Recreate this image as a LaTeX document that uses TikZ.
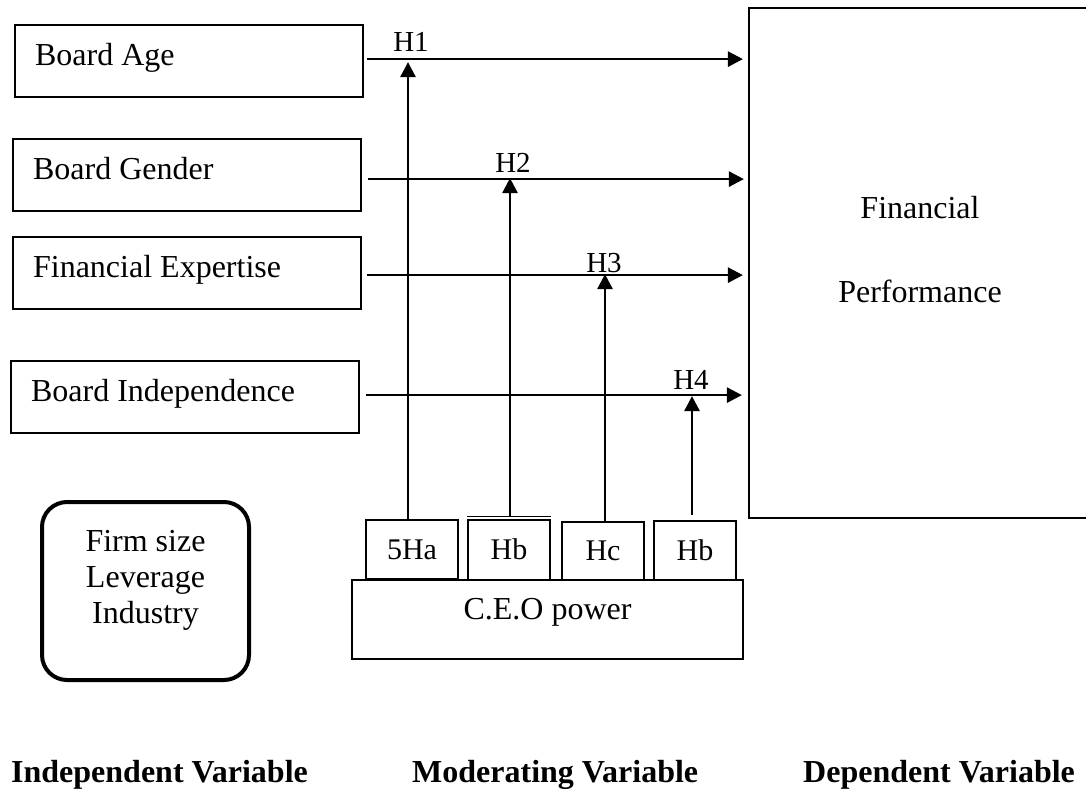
\documentclass[tikz,border=0pt]{standalone}
\usepackage{fontspec}
\setmainfont{Liberation Serif}
\usetikzlibrary{arrows.meta}
\begin{document}
\begin{tikzpicture}[x=1pt,y=-1pt,
  box/.style={draw, line width=2.2pt, inner sep=0pt, font=\fontsize{32}{38}\selectfont},
  varbox/.style={box, anchor=north west, minimum width=348pt, minimum height=72pt,
    text width=308pt, align=flush left, inner xsep=20pt, text height=22pt, text depth=14pt},
  hbox/.style={box, font=\fontsize{30}{36}\selectfont, minimum width=82pt,
    minimum height=59pt, text height=21pt, text depth=2pt},
  link/.style={line width=2.7pt, -{Triangle[length=15pt,width=15pt]}},
  hlab/.style={font=\fontsize{29}{34}\selectfont, anchor=base, inner sep=0pt},
  foot/.style={font=\fontsize{32}{38}\selectfont\bfseries, anchor=base west, inner sep=0pt}]
\useasboundingbox (0,0) rectangle (1086,792);
\clip (0,0) rectangle (1086,792);

% independent variables
\node[varbox] (ba) at (14,24) {Board Age};
\node[varbox] (bg) at (12,138) {Board Gender};
\node[varbox] (fe) at (12,236) {Financial Expertise};
\node[varbox] (bi) at (10,360) {Board Independence};

% dependent variable
\node[box, minimum width=342pt, minimum height=510pt, align=center, text depth=28pt]
  (fp) at (920,263) {Financial\\[46pt]Performance};

% control variables
\node[box, line width=4pt, rounded corners=25pt, minimum width=207pt, minimum height=178pt,
  align=center, font=\fontsize{32}{36}\selectfont, text depth=29pt]
  (ctl) at (145.5,591) {Firm size\\Leverage\\Industry};

% moderator
\node[box, minimum width=391pt, minimum height=79pt, text height=22pt, text depth=22pt]
  (ceo) at (547.5,619.5) {C.E.O power};
\node[hbox, minimum width=92pt] (s1) at (412,549.5) {5Ha};
\node[hbox, minimum height=60pt] (s2) at (509,550) {Hb};
\node[hbox, minimum height=58pt] (s3) at (603,551) {Hc};
\node[hbox] (s4) at (695,550.5) {Hb};
\draw[line width=1.5pt] ([yshift=2.5pt]s2.north west) -- ([yshift=2.5pt]s2.north east);

% rows
\coordinate (r1) at ([yshift=2pt]ba.east);
\coordinate (r2) at ([yshift=-4pt]bg.east);
\coordinate (r3) at ([yshift=-2pt]fe.east);
\coordinate (r4) at ([yshift=2pt]bi.east);

\draw[link, shorten <=3pt, shorten >=5pt] (r1) -- (r1 -| fp.west);
\draw[link, shorten <=6pt, shorten >=4pt] (r2) -- (r2 -| fp.west);
\draw[link, shorten <=5pt, shorten >=5pt] (r3) -- (r3 -| fp.west);
\draw[link, shorten <=6pt, shorten >=6pt] (r4) -- (r4 -| fp.west);

% moderating arrows
\coordinate (v1) at ([xshift=-4pt]s1.north);
\coordinate (v2) at ([xshift=1pt,yshift=2.5pt]s2.north);
\coordinate (v3) at ([xshift=2pt]s3.north);
\coordinate (v4) at ([xshift=-3pt]s4.north);
\draw[link, shorten >=3pt] (v1) -- (v1 |- r1);
\draw[link, shorten >=-1pt] (v2) -- (v2 |- r2);
\draw[link, shorten >=-1pt] (v3) -- (v3 |- r3);
\draw[link, shorten <=5pt, shorten >=1pt] (v4) -- (v4 |- r4);

% hypothesis labels
\node[hlab] (h1) at (411,52) {H1};
\node[hlab] (h2) at (513,172) {H2};
\node[hlab] (h3) at (604,272) {H3};
\node[hlab] (h4) at (691,389) {H4};

% footer
\node[foot] (t1) at (11,782) {Independent Variable};
\node[foot] (t2) at (412,782) {Moderating Variable};
\node[foot] (t3) at (803,782) {Dependent Variable};
\end{tikzpicture}
\end{document}
